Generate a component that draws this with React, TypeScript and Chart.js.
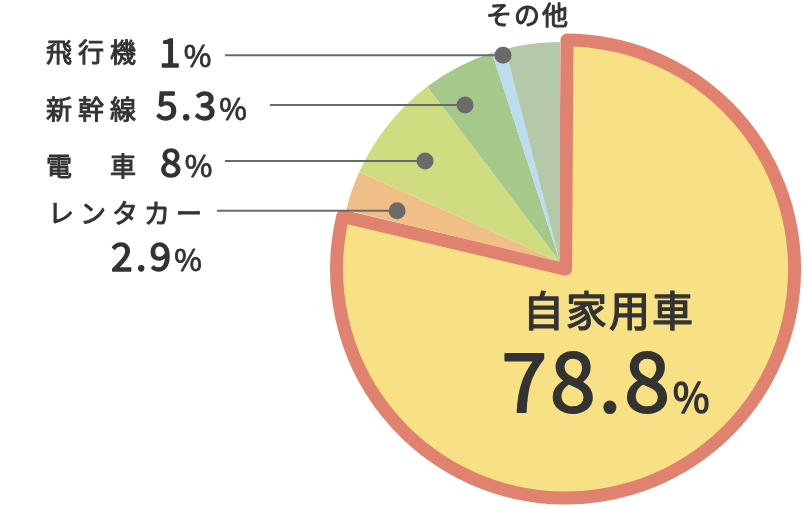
import { useEffect, useRef } from 'react';
import { Chart, registerables } from 'chart.js';

Chart.register(...registerables);

// ---- data ----
const categories = ['自家用車', 'レンタカー', '電車', '新幹線', '飛行機', 'その他'];
const displayNames = ['自家用車', 'レンタカー', '電　車', '新幹線', '飛行機', 'その他'];
const shares = [78.8, 2.9, 8, 5.3, 1, 4.0];
const shareLabels = ['78.8', '2.9', '8', '5.3', '1', ''];
const fillColors = ['#F8E084', '#F0BF87', '#D0DC80', '#A4C98A', '#BCDDF0', '#B5C8AA'];
const borderColors = ['#E0826F', '#FFFFFF', '#FFFFFF', '#FFFFFF', '#FFFFFF', '#FFFFFF'];
const borderWidths = [13, 0, 0, 0, 0, 0];
const offsets = [36, 0, 0, 0, 0, 0];

// callout layout: slice index, angular fraction in slice, radial fraction, line start x
const callouts = [
  { index: 4, t: 0.72, rf: 0.975, lineX: 225 },
  { index: 3, t: 0.31, rf: 0.834, lineX: 270 },
  { index: 2, t: 0.44, rf: 0.766, lineX: 225 },
  { index: 1, t: 0.36, rf: 0.776, lineX: 217 },
];

// text layout
const textRows = [
  { index: 4, nx: 46, ny: 62, vx: 159, vy: 67 },
  { index: 3, nx: 46, ny: 119, vx: 156, vy: 120 },
  { index: 2, nx: 46, ny: 176, vx: 160, vy: 177 },
  { index: 1, nx: 48, ny: 223, vx: 111, vy: 271 },
];

const FONT = '"Noto Sans CJK JP", "Noto Sans", sans-serif';
const TEXT = '#333333';

function heavyText(ctx: CanvasRenderingContext2D, s: string, x: number, y: number, size: number, spacing: number, stroke: number, align: CanvasTextAlign) {
  ctx.save();
  (ctx as any).letterSpacing = spacing + 'px';
  ctx.font = `400 ${size}px ${FONT}`;
  ctx.textAlign = align;
  ctx.textBaseline = 'alphabetic';
  ctx.fillStyle = TEXT;
  ctx.strokeStyle = TEXT;
  ctx.lineWidth = stroke;
  ctx.lineJoin = 'round';
  ctx.fillText(s, x, y);
  if (stroke > 0) ctx.strokeText(s, x, y);
  ctx.restore();
}

function measure(ctx: CanvasRenderingContext2D, s: string, size: number, spacing: number) {
  ctx.save();
  (ctx as any).letterSpacing = spacing + 'px';
  ctx.font = `400 ${size}px ${FONT}`;
  const w = ctx.measureText(s).width;
  ctx.restore();
  return w;
}

function drawValue(ctx: CanvasRenderingContext2D, num: string, x: number, y: number, numSize: number, pctSize: number, spacing: number, stroke: number, align: 'left' | 'center') {
  const wn = measure(ctx, num, numSize, spacing);
  const wp = measure(ctx, '%', pctSize, spacing);
  const sx = align === 'center' ? x - (wn + wp) / 2 : x;
  heavyText(ctx, num, sx, y, numSize, spacing, stroke, 'left');
  heavyText(ctx, '%', sx + wn, y, pctSize, spacing, stroke * 0.6, 'left');
}

const calloutPlugin = {
  id: 'calloutLabels',
  afterDatasetsDraw(chart: any) {
    const ctx: CanvasRenderingContext2D = chart.ctx;
    const arcs = chart.getDatasetMeta(0).data;
    ctx.save();
    callouts.forEach((c) => {
      const arc = arcs[c.index];
      const p = arc.getProps(['x', 'y', 'startAngle', 'endAngle', 'outerRadius'], true);
      const a = p.startAngle + c.t * (p.endAngle - p.startAngle);
      const px = p.x + Math.cos(a) * p.outerRadius * c.rf;
      const py = p.y + Math.sin(a) * p.outerRadius * c.rf;
      ctx.strokeStyle = '#6A6A6A';
      ctx.lineWidth = 2;
      ctx.beginPath();
      ctx.moveTo(c.lineX, py);
      ctx.lineTo(px, py);
      ctx.stroke();
      ctx.fillStyle = '#6A6A6A';
      ctx.beginPath();
      ctx.arc(px, py, 8.5, 0, Math.PI * 2);
      ctx.fill();
    });

    textRows.forEach((r) => {
      heavyText(ctx, displayNames[r.index], r.nx, r.ny, 26, 6, 1, 'left');
      drawValue(ctx, shareLabels[r.index], r.vx, r.vy, 39, 30, 3, 1.4, 'left');
    });

    // その他 label
    heavyText(ctx, displayNames[5], 528, 25, 26, 2, 1, 'center');

    // main slice label
    heavyText(ctx, displayNames[0], 609, 326, 41, 2, 1.4, 'center');
    drawValue(ctx, shareLabels[0], 607, 412, 82, 40, 3, 2.2, 'center');
    ctx.restore();
  },
};

export default function App() {
  const ref = useRef<HTMLCanvasElement | null>(null);
  useEffect(() => {
    if (!ref.current) return;
    const chart = new Chart(ref.current, {
      type: 'pie',
      data: {
        labels: categories,
        datasets: [
          {
            data: shares,
            backgroundColor: fillColors,
            borderColor: borderColors,
            borderWidth: borderWidths,
            borderJoinStyle: 'round',
            offset: offsets,
            radius: 220,
          } as any,
        ],
      },
      options: {
        responsive: false,
        animation: false,
        layout: { padding: { left: 330, right: 14, top: 18, bottom: 2 } },
        plugins: { legend: { display: false }, tooltip: { enabled: false } },
        events: [],
      },
      plugins: [calloutPlugin],
    });
    return () => chart.destroy();
  }, []);
  return (
    <div style={{ position: 'absolute', left: 0, top: 0, width: 804, height: 508, background: '#fff' }}>
      <canvas ref={ref} width={804} height={508} style={{ display: 'block', width: 804, height: 508 }} />
    </div>
  );
}
